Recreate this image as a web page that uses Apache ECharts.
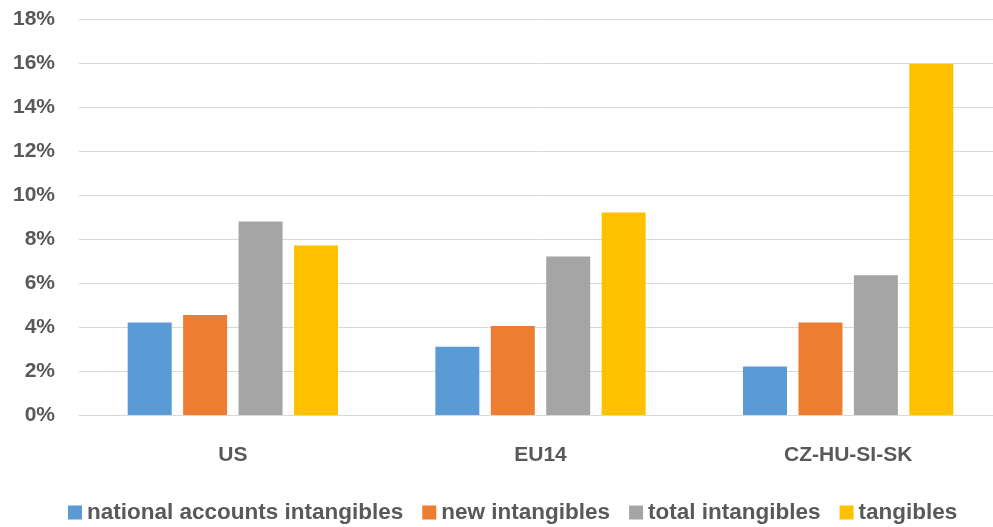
<!DOCTYPE html>
<html>
<head>
<meta charset="utf-8">
<script src="https://cdn.jsdelivr.net/npm/echarts@6/dist/echarts.min.js"></script>
<style>
  html, body { margin: 0; padding: 0; background: #fff; }
  #chart { width: 993px; height: 527px; }
</style>
</head>
<body>
<div id="chart"></div>
<script>
// data (percent)
const categories = ["US", "EU14", "CZ-HU-SI-SK"];
const seriesNames = ["national accounts intangibles", "new intangibles", "total intangibles", "tangibles"];
const nationalAccounts = [4.2, 3.1, 2.2];
const newIntangibles = [4.55, 4.05, 4.2];
const totalIntangibles = [8.8, 7.2, 6.35];
const tangibles = [7.7, 9.2, 15.95];
const colors = ["#5B9BD5", "#ED7D31", "#A5A5A5", "#FFC000"];

const font = "'Liberation Sans', Arial, sans-serif";
const textGray = "#595959";
const lineGray = "#D9D9D9";

const chart = echarts.init(document.getElementById("chart"));

const values = [nationalAccounts, newIntangibles, totalIntangibles, tangibles];

chart.setOption({
  animation: false,
  color: colors,
  textStyle: { fontFamily: font },
  grid: { left: 79, top: 19, width: 923, height: 396, outerBoundsMode: "none" },
  legend: {
    top: 496,
    left: 63,
    itemWidth: 14,
    itemHeight: 14,
    itemGap: 19,
    icon: "rect",
    textStyle: { color: textGray, fontSize: 22.5, fontFamily: font, fontWeight: "bold" },
    data: seriesNames
  },
  xAxis: {
    type: "category",
    data: categories,
    axisLine: { lineStyle: { color: lineGray, width: 1 } },
    axisTick: { show: false },
    axisLabel: { color: textGray, fontSize: 21, fontWeight: "bold", margin: 30, fontFamily: font }
  },
  yAxis: {
    type: "value",
    min: 0,
    max: 18,
    interval: 2,
    axisLine: { show: false },
    axisTick: { show: false },
    splitLine: { lineStyle: { color: lineGray, width: 1 } },
    axisLabel: {
      color: textGray, fontSize: 21, fontWeight: "bold", margin: 24, fontFamily: font,
      formatter: "{value}%"
    }
  },
  series: seriesNames.map((name, i) => ({
    name: name,
    type: "bar",
    data: values[i],
    barWidth: 44,
    barGap: "26%"
  }))
});
</script>
</body>
</html>
